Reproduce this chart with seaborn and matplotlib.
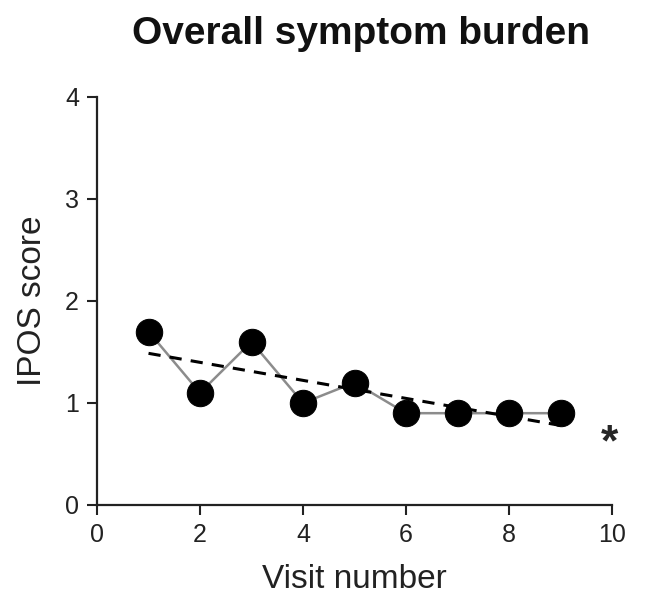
import matplotlib
matplotlib.use("Agg")
import matplotlib.pyplot as plt
import seaborn as sns
import pandas as pd

visits = [1, 2, 3, 4, 5, 6, 7, 8, 9]
ipos_scores = [1.7, 1.1, 1.6, 1.0, 1.2, 0.9, 0.9, 0.9, 0.9]
x_ticks = [0, 2, 4, 6, 8, 10]
y_ticks = [0, 1, 2, 3, 4]

df = pd.DataFrame({"visit": visits, "score": ipos_scores})

sns.set_style("ticks")
plt.rcParams['font.family'] = ['Liberation Sans', 'DejaVu Sans']

fig = plt.figure(figsize=(6.49, 5.96), dpi=100)
ax = fig.add_axes([0.1495, 0.1527, 0.7935, 0.6846])

sns.lineplot(data=df, x="visit", y="score", ax=ax, color="#8c8c8c", linewidth=1.8,
             marker="o", markersize=19, markerfacecolor="black", markeredgecolor="black",
             zorder=2)
sns.regplot(data=df, x="visit", y="score", ax=ax, ci=None, scatter=False,
            line_kws=dict(color="black", linestyle=(0, (4, 3)), linewidth=2.2, zorder=3))

ax.text(9.95, 0.6, "*", fontsize=32, fontweight="bold", ha="center", va="center")

ax.set_xlim(0, 10)
ax.set_ylim(0, 4)
ax.set_xticks(x_ticks)
ax.set_yticks(y_ticks)
ax.tick_params(labelsize=18, length=7, width=1.5, colors="#222222", pad=6)
for s in ["left", "bottom"]:
    ax.spines[s].set_linewidth(1.6)
    ax.spines[s].set_color("#222222")
sns.despine(ax=ax)

ax.set_xlabel("Visit number", fontsize=24, color="#222222", labelpad=12)
ax.set_ylabel("IPOS score", fontsize=24, color="#222222", labelpad=12)
fig.text(0.557, 0.943, "Overall symptom burden", fontsize=28, fontweight="bold",
         ha="center", va="center", color="#111111")

fig.savefig("out.png", dpi=100)
